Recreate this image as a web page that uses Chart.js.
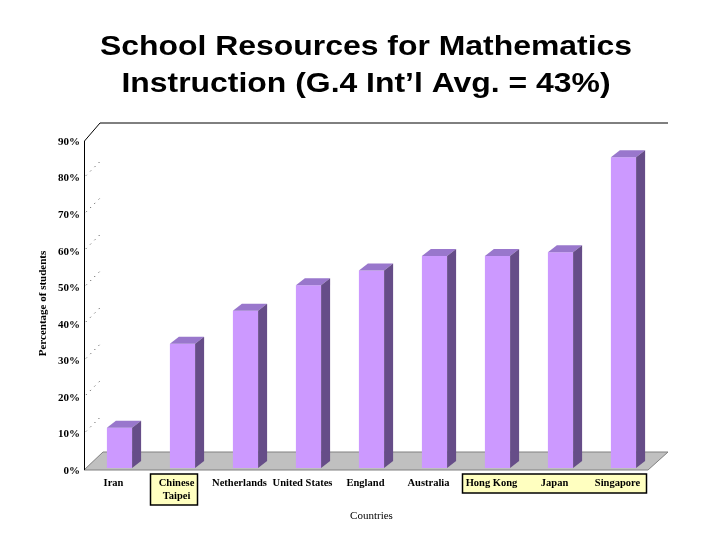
<!DOCTYPE html>
<html>
<head>
<meta charset="utf-8">
<script src="https://cdn.jsdelivr.net/npm/chart.js@4.4.1/dist/chart.umd.min.js"></script>
<style>
  body { margin: 0; background: #fff; }
  #wrap { width: 720px; height: 540px; }
</style>
</head>
<body>
<div id="wrap"><canvas id="chart" width="720" height="540"></canvas></div>
<script>
// --- data ---
const countries = ['Iran', ['Chinese', 'Taipei'], 'Netherlands', 'United States', 'England', 'Australia', 'Hong Kong', 'Japan', 'Singapore'];
const pctStudents = [11, 34, 43, 50, 54, 58, 58, 59, 85];
const yTicks = [0, 10, 20, 30, 40, 50, 60, 70, 80, 90];
const titleLines = ['School Resources for Mathematics', 'Instruction (G.4 Int\u2019l Avg. = 43%)'];
// label groups boxed in yellow (first index, last index)
const boxedGroups = [[1, 1], [6, 8]];

const serif = '"Liberation Serif", "Times New Roman", serif';
const DX = 9, DY = 7; // bar depth

// draws title, walls, floor and the yellow label boxes behind the chart
const sceneBack = {
    id: 'sceneBack',
    beforeDraw(chart) {
        const ctx = chart.ctx;
        const { left, right, top, bottom } = chart.chartArea;
        const xs = chart.scales.x, ys = chart.scales.y;
        ctx.save();
        ctx.fillStyle = '#fff';
        ctx.fillRect(0, 0, chart.width, chart.height);

        // title (slightly wide, like the slide)
        ctx.fillStyle = '#000';
        ctx.font = 'bold 28px "Liberation Sans", Arial, sans-serif';
        ctx.textAlign = 'center';
        ctx.textBaseline = 'alphabetic';
        [55, 92].forEach((yy, i) => {
            ctx.save();
            ctx.translate(366, yy);
            ctx.scale(1.14, 1);
            ctx.fillText(titleLines[i], 0, 0);
            ctx.restore();
        });

        const L = left - 4;
        // floor
        ctx.fillStyle = '#c0c0c0';
        ctx.strokeStyle = '#808080';
        ctx.lineWidth = 1;
        ctx.beginPath();
        ctx.moveTo(L, bottom + 2);
        ctx.lineTo(right - 7, bottom + 2);
        ctx.lineTo(right + 13, bottom - 16);
        ctx.lineTo(L + 19, bottom - 16);
        ctx.closePath();
        ctx.fill();
        ctx.stroke();

        // wall edges
        ctx.strokeStyle = '#000';
        ctx.beginPath();
        ctx.moveTo(L + 0.5, bottom + 2);
        ctx.lineTo(L + 0.5, top + 2);
        ctx.lineTo(L + 16, top - 16);
        ctx.lineTo(right + 13, top - 16);
        ctx.stroke();

        // dotted gridlines on the side wall
        ctx.setLineDash([1, 5]);
        ctx.strokeStyle = '#333';
        yTicks.slice(1, -1).forEach(v => {
            const py = ys.getPixelForValue(v) + 2;
            ctx.beginPath();
            ctx.moveTo(L + 2, py - 2);
            ctx.lineTo(L + 18, py - 18);
            ctx.stroke();
        });
        ctx.setLineDash([]);

        // yellow label boxes
        ctx.fillStyle = '#ffffc0';
        ctx.strokeStyle = '#000';
        ctx.lineWidth = 1.5;
        boxedGroups.forEach(([a, b]) => {
            const two = Array.isArray(countries[a]);
            const x0 = a === b ? xs.getPixelForValue(a) - 6 - 26 : xs.getPixelForValue(a) - 6 - 29;
            const x1 = a === b ? xs.getPixelForValue(b) - 6 + 21 : xs.getPixelForValue(b) - 6 + 29;
            ctx.fillRect(x0, bottom + 6, x1 - x0, two ? 31 : 19);
            ctx.strokeRect(x0, bottom + 6, x1 - x0, two ? 31 : 19);
        });
        ctx.restore();
    }
};

// top and side faces of the bars
const barDepth = {
    id: 'barDepth',
    afterDatasetsDraw(chart) {
        const ctx = chart.ctx;
        const meta = chart.getDatasetMeta(0);
        ctx.save();
        meta.data.forEach(bar => {
            const { x, y, base, width } = bar.getProps(['x', 'y', 'base', 'width'], true);
            const xl = x - width / 2, xr = x + width / 2;
            ctx.fillStyle = '#9977cc';
            ctx.beginPath();
            ctx.moveTo(xl, y);
            ctx.lineTo(xr, y);
            ctx.lineTo(xr + DX, y - DY);
            ctx.lineTo(xl + DX, y - DY);
            ctx.closePath();
            ctx.fill();
            ctx.fillStyle = '#664d88';
            ctx.beginPath();
            ctx.moveTo(xr, y);
            ctx.lineTo(xr + DX, y - DY);
            ctx.lineTo(xr + DX, base - DY);
            ctx.lineTo(xr, base);
            ctx.closePath();
            ctx.fill();
        });
        ctx.restore();
    }
};

new Chart(document.getElementById('chart'), {
    type: 'bar',
    data: {
        labels: countries,
        datasets: [{
            data: pctStudents,
            backgroundColor: '#cc99ff',
            borderWidth: 0,
            barPercentage: 0.4,
            categoryPercentage: 1
        }]
    },
    plugins: [sceneBack, barDepth],
    options: {
        responsive: false,
        animation: false,
        devicePixelRatio: 1,
        layout: { padding: { top: 139, left: 20, right: 65, bottom: 0 } },
        plugins: {
            legend: { display: false },
            tooltip: { enabled: false }
        },
        scales: {
            x: {
                grid: { display: false, drawTicks: false },
                border: { display: false },
                ticks: {
                    color: '#000',
                    font: { family: serif, weight: 'bold', size: 10.5 },
                    padding: 9,
                    labelOffset: -6,
                    maxRotation: 0,
                    autoSkip: false
                },
                title: {
                    display: true,
                    text: 'Countries',
                    color: '#000',
                    font: { family: serif, size: 11 },
                    padding: { top: 0, bottom: 17 }
                },
                afterFit: s => { s.height = 72; }
            },
            y: {
                min: 0,
                max: 90,
                grid: { display: false, drawTicks: false },
                border: { display: false },
                afterBuildTicks: s => { s.ticks = yTicks.map(v => ({ value: v })); },
                ticks: {
                    color: '#000',
                    font: { family: serif, weight: 'bold', size: 11 },
                    padding: 8,
                    labelOffset: 3,
                    callback: v => v + '%'
                },
                title: {
                    display: true,
                    text: 'Percentage of students',
                    color: '#000',
                    font: { family: serif, weight: 'bold', size: 11 },
                    padding: { top: 17, bottom: 0 }
                },
                afterFit: s => { s.width = 68; }
            }
        }
    }
});
</script>
</body>
</html>
